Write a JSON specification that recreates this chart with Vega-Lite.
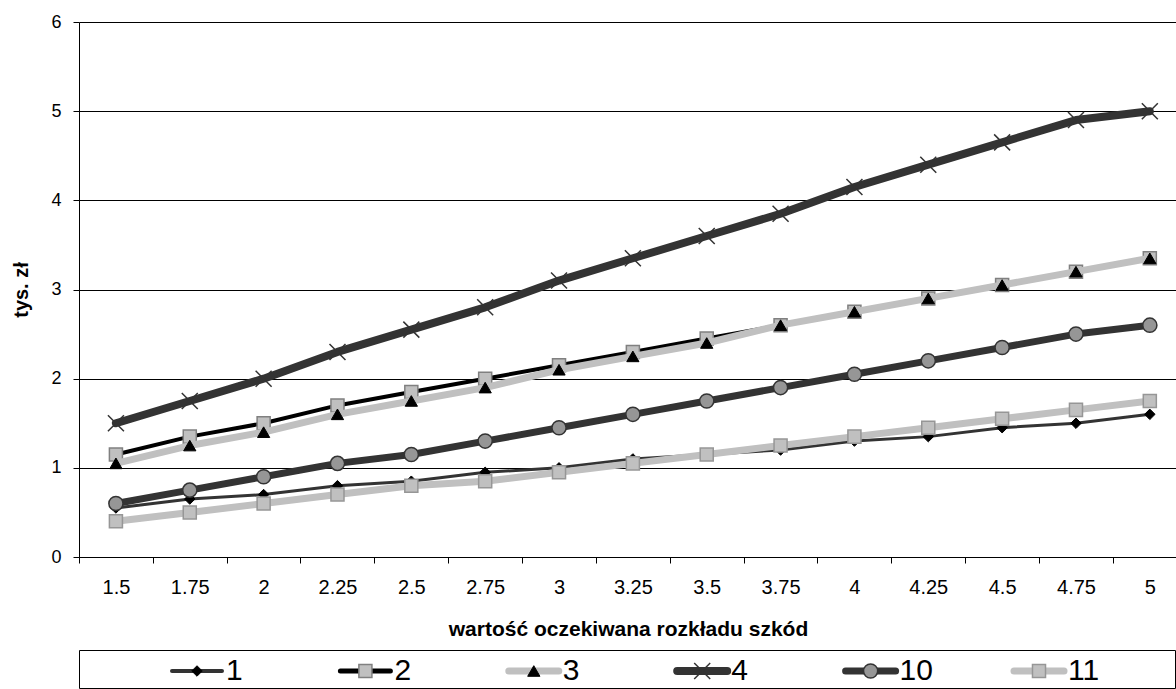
{
  "$schema": "https://vega.github.io/schema/vega-lite/v6.json",
  "padding": {"left": 11, "top": 13, "right": 0, "bottom": 0},
  "bounds": "flush",
  "spacing": 93,
  "config": {
    "font": "Liberation Sans",
    "view": {"stroke": null},
    "axis": {"labelColor": "#000", "titleColor": "#000", "domainColor": "#000", "tickColor": "#000", "labelFont": "Liberation Sans", "titleFont": "Liberation Sans"}
  },
  "datasets": {
    "main": [
      {"x":1.5,"s":"1","v":0.55},{"x":1.75,"s":"1","v":0.65},{"x":2,"s":"1","v":0.7},{"x":2.25,"s":"1","v":0.8},{"x":2.5,"s":"1","v":0.85},{"x":2.75,"s":"1","v":0.95},{"x":3,"s":"1","v":1.0},{"x":3.25,"s":"1","v":1.1},{"x":3.5,"s":"1","v":1.15},{"x":3.75,"s":"1","v":1.2},{"x":4,"s":"1","v":1.3},{"x":4.25,"s":"1","v":1.35},{"x":4.5,"s":"1","v":1.45},{"x":4.75,"s":"1","v":1.5},{"x":5,"s":"1","v":1.6},
      {"x":1.5,"s":"2","v":1.15},{"x":1.75,"s":"2","v":1.35},{"x":2,"s":"2","v":1.5},{"x":2.25,"s":"2","v":1.7},{"x":2.5,"s":"2","v":1.85},{"x":2.75,"s":"2","v":2.0},{"x":3,"s":"2","v":2.15},{"x":3.25,"s":"2","v":2.3},{"x":3.5,"s":"2","v":2.45},{"x":3.75,"s":"2","v":2.6},{"x":4,"s":"2","v":2.75},{"x":4.25,"s":"2","v":2.9},{"x":4.5,"s":"2","v":3.05},{"x":4.75,"s":"2","v":3.2},{"x":5,"s":"2","v":3.35},
      {"x":1.5,"s":"3","v":1.05},{"x":1.75,"s":"3","v":1.25},{"x":2,"s":"3","v":1.4},{"x":2.25,"s":"3","v":1.6},{"x":2.5,"s":"3","v":1.75},{"x":2.75,"s":"3","v":1.9},{"x":3,"s":"3","v":2.1},{"x":3.25,"s":"3","v":2.25},{"x":3.5,"s":"3","v":2.4},{"x":3.75,"s":"3","v":2.6},{"x":4,"s":"3","v":2.75},{"x":4.25,"s":"3","v":2.9},{"x":4.5,"s":"3","v":3.05},{"x":4.75,"s":"3","v":3.2},{"x":5,"s":"3","v":3.35},
      {"x":1.5,"s":"4","v":1.5},{"x":1.75,"s":"4","v":1.75},{"x":2,"s":"4","v":2.0},{"x":2.25,"s":"4","v":2.3},{"x":2.5,"s":"4","v":2.55},{"x":2.75,"s":"4","v":2.8},{"x":3,"s":"4","v":3.1},{"x":3.25,"s":"4","v":3.35},{"x":3.5,"s":"4","v":3.6},{"x":3.75,"s":"4","v":3.85},{"x":4,"s":"4","v":4.15},{"x":4.25,"s":"4","v":4.4},{"x":4.5,"s":"4","v":4.65},{"x":4.75,"s":"4","v":4.9},{"x":5,"s":"4","v":5.0},
      {"x":1.5,"s":"10","v":0.6},{"x":1.75,"s":"10","v":0.75},{"x":2,"s":"10","v":0.9},{"x":2.25,"s":"10","v":1.05},{"x":2.5,"s":"10","v":1.15},{"x":2.75,"s":"10","v":1.3},{"x":3,"s":"10","v":1.45},{"x":3.25,"s":"10","v":1.6},{"x":3.5,"s":"10","v":1.75},{"x":3.75,"s":"10","v":1.9},{"x":4,"s":"10","v":2.05},{"x":4.25,"s":"10","v":2.2},{"x":4.5,"s":"10","v":2.35},{"x":4.75,"s":"10","v":2.5},{"x":5,"s":"10","v":2.6},
      {"x":1.5,"s":"11","v":0.4},{"x":1.75,"s":"11","v":0.5},{"x":2,"s":"11","v":0.6},{"x":2.25,"s":"11","v":0.7},{"x":2.5,"s":"11","v":0.8},{"x":2.75,"s":"11","v":0.85},{"x":3,"s":"11","v":0.95},{"x":3.25,"s":"11","v":1.05},{"x":3.5,"s":"11","v":1.15},{"x":3.75,"s":"11","v":1.25},{"x":4,"s":"11","v":1.35},{"x":4.25,"s":"11","v":1.45},{"x":4.5,"s":"11","v":1.55},{"x":4.75,"s":"11","v":1.65},{"x":5,"s":"11","v":1.75}
    ],
    "series": [{"s":"1"},{"s":"2"},{"s":"3"},{"s":"4"},{"s":"10"},{"s":"11"}]
  },
  "vconcat": [
    {
      "width": 1098,
      "height": 535,
      "data": {"name": "main"},
      "encoding": {
        "x": {"field": "x", "type": "quantitative",
          "scale": {"domain": [1.375, 5.092], "nice": false, "zero": false},
          "axis": {"values": [1.5,1.75,2,2.25,2.5,2.75,3,3.25,3.5,3.75,4,4.25,4.5,4.75,5], "labelExpr": "toString(datum.value)", "grid": false,
            "tickOffset": -37, "labelOffset": 37, "tickSize": 6, "labelPadding": 14, "labelFontSize": 20, "labelFlush": false, "labelOverlap": false,
            "title": "wartość oczekiwana rozkładu szkód", "titleFontSize": 21, "titleFontWeight": "bold", "titlePadding": 21, "domainWidth": 1}},
        "y": {"field": "v", "type": "quantitative",
          "scale": {"domain": [0, 6], "nice": false},
          "axis": {"values": [0,1,2,3,4,5,6], "grid": true, "gridColor": "#000", "gridWidth": 1, "gridOpacity": 1,
            "tickSize": 6, "labelPadding": 12, "labelFontSize": 18, "labelFlush": false,
            "title": "tys. zł", "titleFontSize": 20, "titleFontWeight": "bold", "titlePadding": 19}}
      },
      "layer": [
        {"transform": [{"filter": "datum.s == '1'"}], "layer": [
          {"mark": {"type": "line", "stroke": "#333", "strokeWidth": 3, "strokeJoin": "round", "strokeCap": "round"}},
          {"mark": {"type": "point", "shape": "diamond", "size": 110, "filled": true, "fill": "#000", "stroke": "#000", "strokeWidth": 1, "opacity": 1}}
        ]},
        {"transform": [{"filter": "datum.s == '2'"}], "layer": [
          {"mark": {"type": "line", "stroke": "#000", "strokeWidth": 4, "strokeJoin": "round", "strokeCap": "round"}},
          {"mark": {"type": "point", "shape": "square", "size": 170, "filled": true, "fill": "#c0c0c0", "stroke": "#808080", "strokeWidth": 1.5, "opacity": 1}}
        ]},
        {"transform": [{"filter": "datum.s == '3'"}], "layer": [
          {"mark": {"type": "line", "stroke": "#c0c0c0", "strokeWidth": 7, "strokeJoin": "round", "strokeCap": "round"}},
          {"mark": {"type": "point", "shape": "triangle-up", "size": 150, "filled": true, "fill": "#000", "stroke": "#000", "strokeWidth": 1, "opacity": 1}}
        ]},
        {"transform": [{"filter": "datum.s == '4'"}], "layer": [
          {"mark": {"type": "line", "stroke": "#333", "strokeWidth": 8, "strokeJoin": "round", "strokeCap": "round"}},
          {"mark": {"type": "point", "shape": "M-1,-1L1,1M-1,1L1,-1", "size": 256, "filled": false, "stroke": "#333", "strokeWidth": 1.5, "opacity": 1}}
        ]},
        {"transform": [{"filter": "datum.s == '10'"}], "layer": [
          {"mark": {"type": "line", "stroke": "#333", "strokeWidth": 7, "strokeJoin": "round", "strokeCap": "round"}},
          {"mark": {"type": "point", "shape": "circle", "size": 200, "filled": true, "fill": "#969696", "stroke": "#333", "strokeWidth": 1.5, "opacity": 1}}
        ]},
        {"transform": [{"filter": "datum.s == '11'"}], "layer": [
          {"mark": {"type": "line", "stroke": "#c0c0c0", "strokeWidth": 7, "strokeJoin": "round", "strokeCap": "round"}},
          {"mark": {"type": "point", "shape": "square", "size": 170, "filled": true, "fill": "#c0c0c0", "stroke": "#969696", "strokeWidth": 1.5, "opacity": 1}}
        ]}
      ]
    },
    {
      "width": 1096,
      "height": 38,
      "view": {"stroke": "#000", "strokeWidth": 1},
      "data": {"name": "series"},
      "encoding": {
        "x": {"field": "s", "type": "nominal", "sort": ["1","2","3","4","10","11"],
          "scale": {"type": "point", "range": [118, 960], "padding": 0}, "axis": null}
      },
      "layer": [
        {"transform": [{"filter": "datum.s == '1'"}], "layer": [
          {"mark": {"type": "point", "shape": "stroke", "size": 2500, "filled": false, "stroke": "#333", "strokeWidth": 4, "strokeCap": "round", "opacity": 1, "yOffset": 2}},
          {"mark": {"type": "point", "shape": "diamond", "size": 110, "filled": true, "fill": "#000", "stroke": "#000", "strokeWidth": 1, "opacity": 1, "yOffset": 2}}
        ]},
        {"transform": [{"filter": "datum.s == '2'"}], "layer": [
          {"mark": {"type": "point", "shape": "stroke", "size": 2500, "filled": false, "stroke": "#000", "strokeWidth": 5, "strokeCap": "round", "opacity": 1, "yOffset": 2}},
          {"mark": {"type": "point", "shape": "square", "size": 170, "filled": true, "fill": "#c0c0c0", "stroke": "#808080", "strokeWidth": 1.5, "opacity": 1, "yOffset": 2}}
        ]},
        {"transform": [{"filter": "datum.s == '3'"}], "layer": [
          {"mark": {"type": "point", "shape": "stroke", "size": 2500, "filled": false, "stroke": "#c0c0c0", "strokeWidth": 7, "strokeCap": "round", "opacity": 1, "yOffset": 2}},
          {"mark": {"type": "point", "shape": "triangle-up", "size": 150, "filled": true, "fill": "#000", "stroke": "#000", "strokeWidth": 1, "opacity": 1, "yOffset": 2}}
        ]},
        {"transform": [{"filter": "datum.s == '4'"}], "layer": [
          {"mark": {"type": "point", "shape": "stroke", "size": 2500, "filled": false, "stroke": "#333", "strokeWidth": 8, "strokeCap": "round", "opacity": 1, "yOffset": 2}},
          {"mark": {"type": "point", "shape": "M-1,-1L1,1M-1,1L1,-1", "size": 256, "filled": false, "stroke": "#333", "strokeWidth": 1.5, "opacity": 1, "yOffset": 2}}
        ]},
        {"transform": [{"filter": "datum.s == '10'"}], "layer": [
          {"mark": {"type": "point", "shape": "stroke", "size": 2500, "filled": false, "stroke": "#333", "strokeWidth": 7, "strokeCap": "round", "opacity": 1, "yOffset": 2}},
          {"mark": {"type": "point", "shape": "circle", "size": 200, "filled": true, "fill": "#969696", "stroke": "#333", "strokeWidth": 1.5, "opacity": 1, "yOffset": 2}}
        ]},
        {"transform": [{"filter": "datum.s == '11'"}], "layer": [
          {"mark": {"type": "point", "shape": "stroke", "size": 2500, "filled": false, "stroke": "#c0c0c0", "strokeWidth": 7, "strokeCap": "round", "opacity": 1, "yOffset": 2}},
          {"mark": {"type": "point", "shape": "square", "size": 170, "filled": true, "fill": "#c0c0c0", "stroke": "#969696", "strokeWidth": 1.5, "opacity": 1, "yOffset": 2}}
        ]},
        {"mark": {"type": "text", "align": "left", "baseline": "middle", "dx": 29, "dy": 2, "fontSize": 30, "font": "Liberation Sans", "color": "#000"},
          "encoding": {"text": {"field": "s"}}}
      ]
    }
  ]
}
